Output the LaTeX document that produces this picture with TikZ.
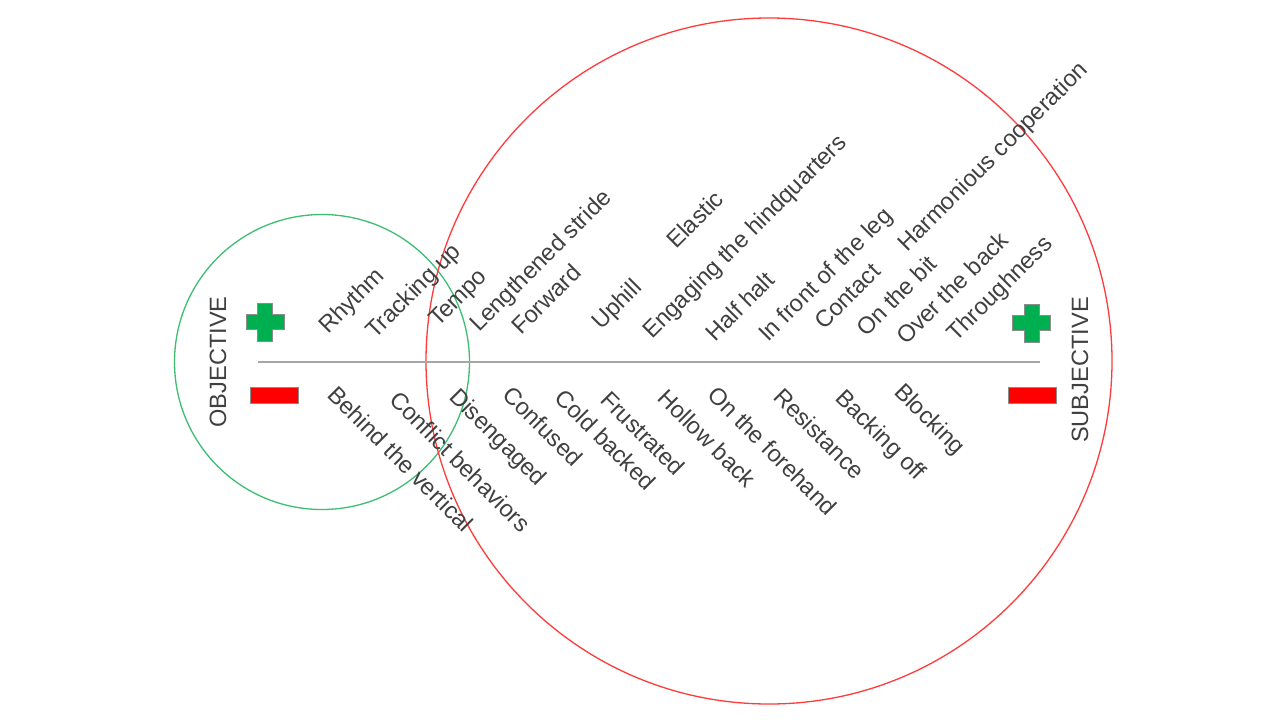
\documentclass[tikz,border=0pt]{standalone}
\usepackage{fontspec}
\setmainfont{Liberation Sans}
\definecolor{txt}{HTML}{404040}
\definecolor{gcirc}{HTML}{3DBE72}
\definecolor{rcirc}{HTML}{FF3B3B}
\definecolor{plusg}{HTML}{00B050}
\definecolor{minusr}{HTML}{FF0000}
\definecolor{axisg}{HTML}{A6A6A6}
\definecolor{edge}{HTML}{8C8C8C}
\begin{document}
\begin{tikzpicture}[x=1pt,y=-1pt,
  uplbl/.style={rotate=45, anchor=base west, inner sep=0pt, text=txt, font=\fontsize{23.6}{27}\selectfont},
  dnlbl/.style={rotate=-45, anchor=base west, inner sep=0pt, text=txt, font=\fontsize{23.6}{27}\selectfont},
  sidelbl/.style={rotate=90, anchor=center, inner sep=0pt, text=txt, font=\fontsize{23.6}{27}\selectfont},
  plusshape/.style={fill=plusg, draw=edge, line width=0.8pt},
  minusshape/.style={fill=minusr, draw=edge, line width=0.8pt},
  circ/.style={line width=1.3pt}
]
\useasboundingbox (0,0) rectangle (1280,720);
\fill[white] (0,0) rectangle (1280,720);

% circles
\draw[circ, gcirc] (322,362) circle[radius=147.5];
\draw[circ, rcirc] (769,361) circle[radius=343];

% axis
\coordinate (axL) at (258,362);
\coordinate (axR) at (1040,362);
\draw[axisg, line width=1.6pt] (axL) -- (axR);

% plus signs
\foreach \cx/\cy in {265/322, 1031.5/323}{
  \draw[plusshape] (\cx-7.5,\cy-19) -- (\cx+7.5,\cy-19) -- (\cx+7.5,\cy-7.5) -- (\cx+19,\cy-7.5)
    -- (\cx+19,\cy+7.5) -- (\cx+7.5,\cy+7.5) -- (\cx+7.5,\cy+19) -- (\cx-7.5,\cy+19)
    -- (\cx-7.5,\cy+7.5) -- (\cx-19,\cy+7.5) -- (\cx-19,\cy-7.5) -- (\cx-7.5,\cy-7.5) -- cycle;
}
% minus signs
\draw[minusshape] (250,387) rectangle (298,403);
\draw[minusshape] (1008,387) rectangle (1056,403);

% side labels
\node[sidelbl] (obj) at (218,362) {OBJECTIVE};
\node[sidelbl] (subj) at (1080,370) {SUBJECTIVE};

% positive labels
\node[uplbl] (l1) at (328,335) {Rhythm};
\node[uplbl] (l2) at (375,340) {Tracking up};
\node[uplbl] (l3) at (438,328) {Tempo};
\node[uplbl] (l4) at (479,333) {Lengthened stride};
\node[uplbl] (l5) at (521,336) {Forward};
\node[uplbl] (l6) at (601,331) {Uphill};
\node[uplbl] (l7) at (676,250) {Elastic};
\node[uplbl] (l8) at (652,340) {Engaging the hindquarters};
\node[uplbl] (l9) at (715,343) {Half halt};
\node[uplbl] (l10) at (768,343) {In front of the leg};
\node[uplbl] (l11) at (824,331) {Contact};
\node[uplbl] (l12) at (907,253) {Harmonious cooperation};
\node[uplbl] (l13) at (866,338) {On the bit};
\node[uplbl] (l14) at (906,346) {Over the back};
\node[uplbl] (l15) at (956,343) {Throughness};

% negative labels
\node[dnlbl] (n1) at (326,396) {Behind the vertical};
\node[dnlbl] (n2) at (388,401) {Conflict behaviors};
\node[dnlbl] (n3) at (448,398) {Disengaged};
\node[dnlbl] (n4) at (501,396) {Confused};
\node[dnlbl] (n5) at (553,399) {Cold backed};
\node[dnlbl] (n6) at (599,401) {Frustrated};
\node[dnlbl] (n7) at (656,399) {Hollow back};
\node[dnlbl] (n8) at (706,396) {On the forehand};
\node[dnlbl] (n9) at (772,398) {Resistance};
\node[dnlbl] (n10) at (834,399) {Backing off};
\node[dnlbl] (n11) at (893,393) {Blocking};
\end{tikzpicture}
\end{document}
